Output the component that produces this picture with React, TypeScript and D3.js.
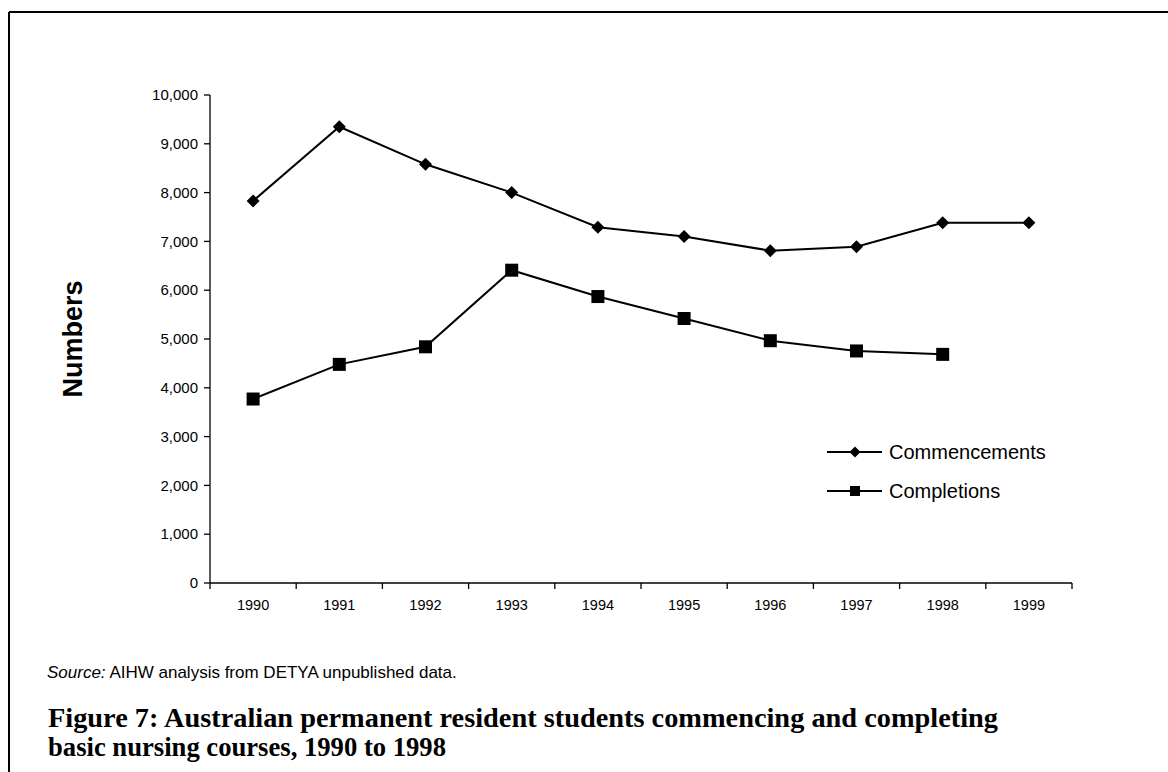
import React from "react";
import * as d3 from "d3";

const years = ["1990", "1991", "1992", "1993", "1994", "1995", "1996", "1997", "1998", "1999"];
const commencements = [7830, 9350, 8580, 8000, 7290, 7100, 6810, 6890, 7380, 7380];
const completions = [3770, 4480, 4840, 6410, 5870, 5420, 4965, 4755, 4685];
const yTicks = [0, 1000, 2000, 3000, 4000, 5000, 6000, 7000, 8000, 9000, 10000];
const seriesNames = ["Commencements", "Completions"];

const W = 1168;
const H = 772;
const left = 210;
const right = 1072;
const top = 95;
const bottom = 583;

export default function App() {
  const x = d3.scaleBand<string>().domain(years).range([left, right]);
  const y = d3.scaleLinear().domain([0, 10000]).range([bottom, top]);
  const cx = (yr: string) => (x(yr) as number) + x.bandwidth() / 2;
  const fmt = d3.format(",");
  const line = d3
    .line<number>()
    .x((_, i) => cx(years[i]))
    .y((d) => y(d));

  const sans = "Arial, 'Liberation Sans', sans-serif";
  const serif = "'Palatino Linotype', 'Book Antiqua', Palatino, 'Liberation Serif', serif";

  const diamond = (px: number, py: number, r: number) =>
    `M${px},${py - r}L${px + r},${py}L${px},${py + r}L${px - r},${py}Z`;

  const boundaries = [...years.map((yr) => x(yr) as number), right];

  return (
    <svg width={W} height={H} style={{ position: "absolute", left: 0, top: 0, background: "#fff" }}>
      <rect x={0} y={0} width={W} height={H} fill="#fff" />
      {/* frame */}
      <line x1={9} y1={12} x2={W} y2={12} stroke="#000" strokeWidth={2} />
      <line x1={9} y1={12} x2={9} y2={H} stroke="#000" strokeWidth={2} />

      {/* y axis */}
      <line x1={left} y1={top} x2={left} y2={bottom} stroke="#000" strokeWidth={1.3} />
      {yTicks.map((t) => (
        <g key={t}>
          <line x1={left - 6} x2={left} y1={y(t)} y2={y(t)} stroke="#000" strokeWidth={1.3} />
          <text x={left - 12} y={y(t)} dy="0.35em" textAnchor="end" fontFamily={sans} fontSize={15} fill="#000">
            {fmt(t)}
          </text>
        </g>
      ))}
      {/* x axis */}
      <line x1={left} y1={bottom} x2={right} y2={bottom} stroke="#000" strokeWidth={1.3} />
      {boundaries.map((b, i) => (
        <line key={i} x1={b} x2={b} y1={bottom} y2={bottom + 6} stroke="#000" strokeWidth={1.3} />
      ))}
      {years.map((yr) => (
        <text key={yr} x={cx(yr)} y={bottom + 27} textAnchor="middle" fontFamily={sans} fontSize={14.5} fill="#000">
          {yr}
        </text>
      ))}

      {/* y label */}
      <text
        transform={`translate(82,${(top + bottom) / 2}) rotate(-90)`}
        textAnchor="middle"
        fontFamily={sans}
        fontWeight="bold"
        fontSize={27}
        fill="#000"
      >
        Numbers
      </text>

      {/* series */}
      <path d={line(commencements) || ""} fill="none" stroke="#000" strokeWidth={2} />
      <path d={line(completions) || ""} fill="none" stroke="#000" strokeWidth={2} />
      {commencements.map((v, i) => (
        <path key={i} d={diamond(cx(years[i]), y(v), 6.5)} fill="#000" />
      ))}
      {completions.map((v, i) => (
        <rect key={i} x={cx(years[i]) - 6.5} y={y(v) - 6.5} width={13} height={13} fill="#000" />
      ))}

      {/* legend */}
      <g>
        <line x1={827} x2={882} y1={452} y2={452} stroke="#000" strokeWidth={2} />
        <path d={diamond(855, 452, 5.5)} fill="#000" />
        <text x={889} y={452} dy="0.35em" fontFamily={sans} fontSize={20} fill="#000">
          {seriesNames[0]}
        </text>
        <line x1={827} x2={882} y1={491} y2={491} stroke="#000" strokeWidth={2} />
        <rect x={850} y={486} width={10} height={10} fill="#000" />
        <text x={889} y={491} dy="0.35em" fontFamily={sans} fontSize={20} fill="#000">
          {seriesNames[1]}
        </text>
      </g>

      {/* source */}
      <text x={47} y={678} fontFamily={sans} fontSize={17} fill="#000">
        <tspan fontStyle="italic">Source:</tspan> AIHW analysis from DETYA unpublished data.
      </text>

      {/* title */}
      <text x={48} y={727} fontFamily={serif} fontWeight="bold" fontSize={27.5} fill="#000" textLength={950} lengthAdjust="spacingAndGlyphs">
        Figure 7: Australian permanent resident students commencing and completing
      </text>
      <text x={48} y={756} fontFamily={serif} fontWeight="bold" fontSize={27.5} fill="#000" textLength={398} lengthAdjust="spacingAndGlyphs">
        basic nursing courses, 1990 to 1998
      </text>
    </svg>
  );
}
